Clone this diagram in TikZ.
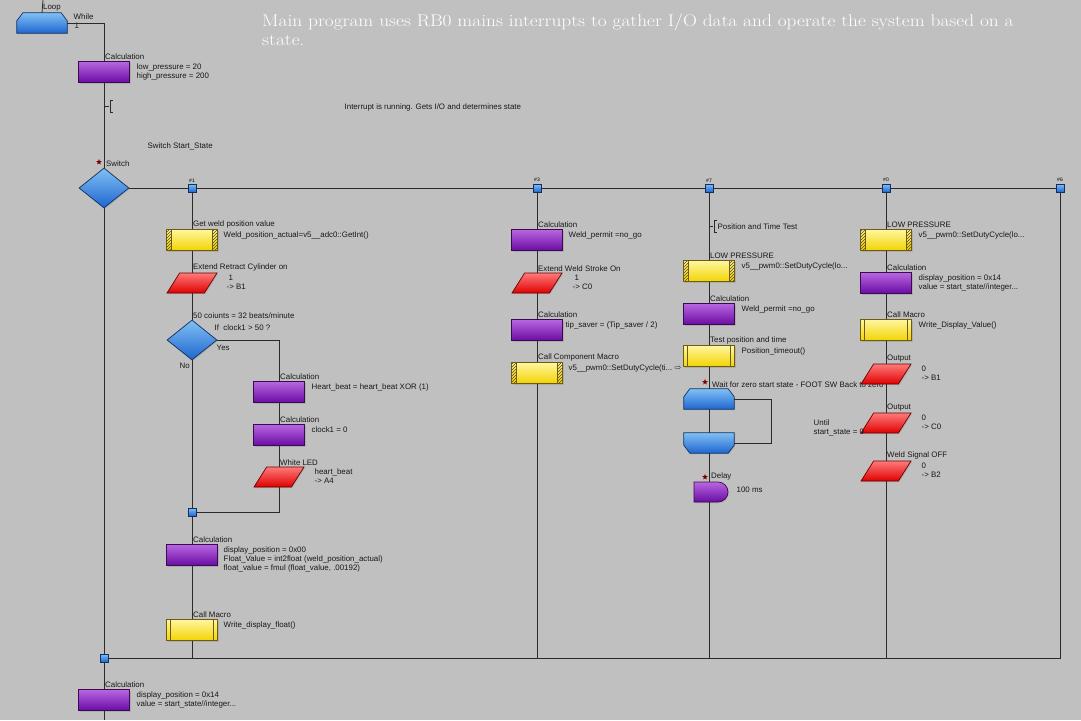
\documentclass[tikz,border=0pt]{standalone}
\usepackage{fontspec}
\setsansfont{Liberation Sans}
\newfontfamily\arrowfont{DejaVu Sans}
\newfontfamily\headfont[FakeStretch=1.14]{Latin Modern Roman}
\usetikzlibrary{shapes.geometric,shapes.misc,patterns,shadows}

\definecolor{bgcol}{HTML}{C0C0C0}
\definecolor{wirecol}{HTML}{2A2A2A}
\definecolor{calctop}{HTML}{B866E0}
\definecolor{calcbot}{HTML}{6A0CA4}
\definecolor{calcline}{HTML}{3A0A50}
\definecolor{yeltop}{HTML}{FFF6A0}
\definecolor{yelbot}{HTML}{F2D400}
\definecolor{yelline}{HTML}{6E5A10}
\definecolor{hatchcol}{HTML}{5A4A10}
\definecolor{redtop}{HTML}{FF7A7A}
\definecolor{redbot}{HTML}{E00000}
\definecolor{redline}{HTML}{6A0000}
\definecolor{bluetop}{HTML}{80C0F4}
\definecolor{bluebot}{HTML}{1E66D0}
\definecolor{blueline}{HTML}{103060}

\newcommand{\ppb}{path picture bounding box}

% block with a title above it and a text right of it
\newcommand{\blk}[7][31]{%
  \node[#3] (#2) at (#4,#5) {};
  \node[ttl, anchor=south west] (#2t) at (#2.north) {#6};
  \node[txt, anchor=north west] (#2b) at ([xshift=#1pt,yshift=-1.5pt]#2.north) {#7};
}
% loop blocks, chamfered at the top or at the bottom
\newcommand{\looptop}[3]{%
  \node[loopbox] (#1) at (#2,#3) {};
  \path[loopfill] (#1.south west) -- ([yshift=-8pt]#1.north west) -- ([xshift=6pt]#1.north west)
    -- ([xshift=-6pt]#1.north east) -- ([yshift=-8pt]#1.north east) -- (#1.south east) -- cycle;
}
\newcommand{\loopbot}[3]{%
  \node[loopbox] (#1) at (#2,#3) {};
  \path[loopfill] (#1.north west) -- ([yshift=8pt]#1.south west) -- ([xshift=6pt]#1.south west)
    -- ([xshift=-6pt]#1.south east) -- ([yshift=8pt]#1.south east) -- (#1.north east) -- cycle;
}

\tikzset{
  wire/.style={draw=wirecol, line width=0.8pt},
  txt/.style={font=\sffamily\fontsize{7.9}{9}\selectfont, align=left, inner sep=0.5pt, text=black!90},
  ttl/.style={txt, inner sep=1pt},
  heading/.style={font=\headfont\fontsize{17}{19}\selectfont, align=left, text=white, inner sep=0pt},
  shade/.style={drop shadow={shadow xshift=1pt, shadow yshift=-1pt, opacity=0.3}},
  calc/.style={shade, rectangle, draw=calcline, line width=0.7pt, top color=calctop, bottom color=calcbot,
    minimum width=51pt, minimum height=21pt, inner sep=0pt},
  macro/.style={shade, rectangle, draw=yelline, line width=0.7pt, top color=yeltop, bottom color=yelbot,
    minimum width=51pt, minimum height=21pt, inner sep=0pt,
    path picture={
      \draw[yelline, line width=0.7pt] ([xshift=4pt]\ppb.south west) -- ([xshift=4pt]\ppb.north west);
      \draw[yelline, line width=0.7pt] ([xshift=-4pt]\ppb.south east) -- ([xshift=-4pt]\ppb.north east);
    }},
  cmacro/.style={shade, rectangle, draw=yelline, line width=0.7pt, top color=yeltop, bottom color=yelbot,
    minimum width=51pt, minimum height=21pt, inner sep=0pt,
    path picture={
      \fill[pattern=north east lines, pattern color=hatchcol] (\ppb.south west) rectangle ([xshift=5pt]\ppb.north west);
      \fill[pattern=north east lines, pattern color=hatchcol] (\ppb.south east) rectangle ([xshift=-5pt]\ppb.north east);
      \draw[yelline, line width=0.7pt] ([xshift=5pt]\ppb.south west) -- ([xshift=5pt]\ppb.north west);
      \draw[yelline, line width=0.7pt] ([xshift=-5pt]\ppb.south east) -- ([xshift=-5pt]\ppb.north east);
    }},
  outp/.style={shade, trapezium, trapezium left angle=63, trapezium right angle=117, trapezium stretches=true,
    draw=redline, line width=0.7pt, top color=redtop, bottom color=redbot,
    minimum width=50pt, minimum height=20pt, inner sep=2pt},
  decide/.style={shade, diamond, draw=blueline, line width=0.7pt, top color=bluetop, bottom color=bluebot,
    minimum width=50pt, minimum height=40pt, inner sep=0pt},
  junc/.style={rectangle, draw=blueline, line width=0.6pt, top color=bluetop, bottom color=bluebot,
    minimum size=8pt, inner sep=0pt},
  loopbox/.style={rectangle, minimum width=50pt, minimum height=20pt, inner sep=0pt},
  loopfill/.style={shade, draw=blueline, line width=0.7pt, top color=bluetop, bottom color=bluebot},
  delay/.style={shade, rounded rectangle, rounded rectangle west arc=none, draw=calcline, line width=0.7pt,
    top color=calctop, bottom color=calcbot, minimum width=34pt, minimum height=20pt, inner sep=0pt},
  starmark/.style={star, star points=5, star point ratio=2.4, fill=red!45!black, minimum size=6pt, inner sep=0pt},
  caselbl/.style={font=\sffamily\fontsize{5}{5}\selectfont, inner sep=0.5pt, anchor=south},
}

\begin{document}
\begin{tikzpicture}[x=1pt,y=-1pt]
  \fill[bgcol] (0,0) rectangle (1081,720);
  \useasboundingbox (0,0) rectangle (1081,720);

  \node[heading, anchor=north west] (head) at (262,14) {Main program uses RB0 mains interrupts to gather I/O data and operate the system based on a\\state.};

  % main line
  \coordinate (top) at (43,0);
  \coordinate (bot) at (104,720);
  \looptop{loop}{42}{23}
  \node[ttl, anchor=south west] (loopt) at (loop.north) {Loop};
  \node[txt, anchor=north west] (while) at (73,13) {While\\\hspace{1pt}1};
  \blk[32]{calc0}{calc}{104}{72}{Calculation}{low\_pressure = 20\\high\_pressure = 200}
  \node[txt, anchor=west] (irq) at (344,107) {Interrupt is running. Gets I/O and determines state};
  \node[txt, anchor=west] (sst) at (147,146) {Switch Start\_State};
  \node[decide] (sw) at (104,188) {};
  \node[ttl, anchor=south west] (swt) at ([xshift=1pt]sw.north) {Switch};
  \node[starmark] (swstar) at (99,162) {};
  \node[junc] (jb) at (104,658) {};
  \blk[32]{cb}{calc}{104}{700}{Calculation}{display\_position = 0x14\\value = start\_state//integer...}

  \draw[wire] (loop.north) -- (top);
  \draw[wire] (loop.east) -| (calc0);
  \draw[wire] (calc0) -- (sw) -- (jb) -- (cb) -- (bot);
  \draw[wire] (104,106) -- ++(5,0) (113,100) -- ++(-3,0) -- ++(0,12) -- ++(3,0);

  % switch cases
  \foreach \n/\x/\c in {c1/192/1, c3/537/3, c7/709/7, c0/886/0, c6/1060/6}{
    \node[junc] (\n) at (\x,188) {};
    \node[caselbl] (\n l) at ([yshift=1pt]\n.north) {\#\c};
  }
  \draw[wire] (sw) -- (c1) -- (c3) -- (c7) -- (c0) -- (c6);
  \draw[wire] (c6) -- (c6 |- jb) -- (jb);

  % case 1
  \blk{gw}{cmacro}{192}{240}{Get weld position value}{Weld\_position\_actual=v5\_\_adc0::GetInt()}
  \blk[34]{ext}{outp}{192}{283}{Extend Retract Cylinder on}{\hspace{2pt}1\\-> B1}
  \node[decide] (dec) at (192,340) {};
  \node[ttl, anchor=south west] (dect) at (dec.north) {50 coiunts = 32 beats/minute};
  \node[txt, anchor=west] (decb) at (214,328) {If\ \ clock1 > 50 ?};
  \node[txt, anchor=west] (yes) at (216,348) {Yes};
  \node[txt, anchor=west] (no) at (179,366) {No};
  \blk[32]{hb}{calc}{279}{392}{Calculation}{Heart\_beat = heart\_beat XOR (1)}
  \blk[32]{clk}{calc}{279}{435}{Calculation}{clock1 = 0}
  \blk[35]{led}{outp}{279}{477}{White LED}{heart\_beat\\-> A4}
  \node[junc] (j1) at (192,512) {};
  \blk{dsp}{calc}{192}{555}{Calculation}{display\_position = 0x00\\Float\_Value = int2float (weld\_position\_actual)\\float\_value = fmul (float\_value, .00192)}
  \blk{wdf}{macro}{192}{630}{Call Macro}{Write\_display\_float()}
  \foreach \a/\b in {c1/gw, gw/ext, ext/dec, dec/j1, j1/dsp, dsp/wdf, hb/clk, clk/led}
    \draw[wire] (\a) -- (\b);
  \draw[wire] (dec.east) -| (hb);
  \draw[wire] (led) |- (j1);
  \draw[wire] (wdf) -- (wdf |- jb);

  % case 3
  \blk{wp}{calc}{537}{240}{Calculation}{Weld\_permit =no\_go}
  \blk[35]{ews}{outp}{537}{283}{Extend Weld Stroke On}{\hspace{2pt}1\\-> C0}
  \blk[28]{tip}{calc}{537}{330}{Calculation}{tip\_saver = (Tip\_saver / 2)}
  \blk{sdc}{cmacro}{537}{373}{Call Component Macro}{v5\_\_pwm0::SetDutyCycle(ti...\ {\arrowfont ⇨}}
  \foreach \a/\b in {c3/wp, wp/ews, ews/tip, tip/sdc}
    \draw[wire] (\a) -- (\b);
  \draw[wire] (sdc) -- (sdc |- jb);

  % case 7
  \draw[wire] (709,226) -- ++(4,0) (717,220) -- ++(-3,0) -- ++(0,12) -- ++(3,0);
  \node[txt, anchor=west] (ptt) at (717,227) {Position and Time Test};
  \blk[32]{lp7}{cmacro}{709}{271}{LOW PRESSURE}{v5\_\_pwm0::SetDutyCycle(lo...}
  \blk[32]{wp7}{calc}{709}{314}{Calculation}{Weld\_permit =no\_go}
  \blk[32]{tpt}{macro}{709}{356}{Test position and time}{Position\_timeout()}
  \looptop{wtop}{709}{399}
  \node[ttl, anchor=south west] (wtopt) at ([xshift=2pt]wtop.north) {Wait for zero start state - FOOT SW Back to zero};
  \node[starmark] (wstar) at (705,382) {};
  \loopbot{wbot}{709}{443}
  \node[delay] (dly) at (711,492) {};
  \node[ttl, anchor=south west] (dlyt) at ([xshift=-1pt]dly.north) {Delay};
  \node[starmark] (dstar) at (705,477) {};
  \node[txt, anchor=west] (dlyb) at (736,490) {100 ms};
  \foreach \a/\b in {c7/lp7, lp7/wp7, wp7/tpt, tpt/wtop, wtop/wbot}
    \draw[wire] (\a) -- (\b);
  \draw[wire] (wtop.east) -- ++(37,0) |- (wbot.east);
  \draw[wire] (wbot) -- (wbot |- dly.north);
  \draw[wire] (wbot |- dly.south) -- (wbot |- jb);

  % case 0
  \blk[32]{lp0}{cmacro}{886}{240}{LOW PRESSURE}{v5\_\_pwm0::SetDutyCycle(lo...}
  \blk[32]{dp0}{calc}{886}{283}{Calculation}{display\_position = 0x14\\value = start\_state//integer...}
  \blk[32]{wdv}{macro}{886}{330}{Call Macro}{Write\_Display\_Value()}
  \blk[35]{o1}{outp}{886}{374}{Output}{0\\-> B1}
  \blk[35]{o2}{outp}{886}{423}{Output}{0\\-> C0}
  \blk[35]{o3}{outp}{886}{471}{Weld Signal OFF}{0\\-> B2}
  \foreach \a/\b in {c0/lp0, lp0/dp0, dp0/wdv, wdv/o1, o1/o2, o2/o3}
    \draw[wire] (\a) -- (\b);
  \draw[wire] (o3) -- (o3 |- jb);
  \node[txt, anchor=west] (until) at (813,428) {Until\\start\_state = 0};
\end{tikzpicture}
\end{document}
